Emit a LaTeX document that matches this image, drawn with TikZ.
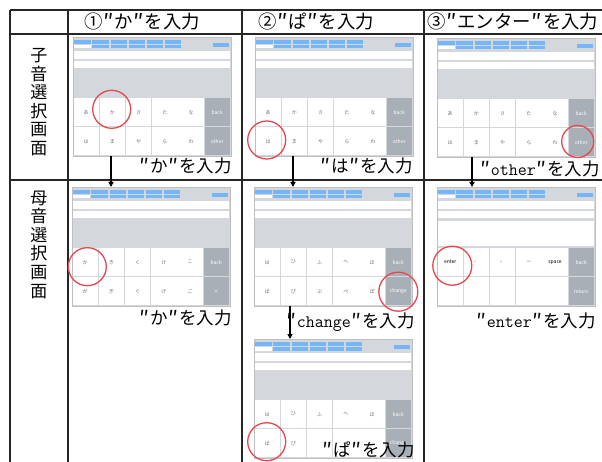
\documentclass[tikz,border=0pt]{standalone}
\usepackage{fontspec}
\newfontfamily\cjk{Noto Sans CJK JP}
\usetikzlibrary{arrows.meta}
\definecolor{scrbg}{HTML}{D4D7DB}
\definecolor{keydark}{HTML}{A8AFB7}
\definecolor{btnblue}{HTML}{74B6F7}
\definecolor{ringred}{HTML}{E5484D}
\definecolor{keytxt}{HTML}{707070}
\newcommand\qq{\makebox[0.65em][c]{\raisebox{-0.12em}{\scalebox{1.2}{″}}}}
\tikzset{
 gridline/.style={line width=1.3pt, draw=black!85},
 arr/.style={line width=1.3pt, -{Triangle[length=5pt,width=5pt]}},
 ring/.style={circle, draw=ringred, line width=1.3pt, inner sep=0pt},
 lbl/.style={font=\cjk\fontsize{17.5}{17.5}\selectfont, inner sep=0pt},
 hdr/.style={font=\cjk\fontsize{18.4}{18.4}\selectfont, inner sep=0pt},
 rowlbl/.style={font=\cjk\fontsize{17}{18.6}\selectfont, align=center, inner sep=0pt},
 keylbl/.style={font=\cjk\fontsize{5}{5}\selectfont, inner sep=0pt},
}
\newcommand\kbscreen[5]{%
\begin{scope}[shift={(#2,#3)}]
 \node[draw=black!25, fill=scrbg, line width=0.4pt, minimum width=158pt, minimum height=119pt, anchor=north west, inner sep=0pt] (#1) at (0,0) {};
 \fill[btnblue] (0.8,3) rectangle (18,7);
 \fill[white] (0.8,7.7) rectangle (18,11.5);
 \foreach \c in {0,...,4} {
   \fill[btnblue] ({19.3+\c*18.2},3) rectangle ({35.5+\c*18.2},7);
   \fill[btnblue] ({19.3+\c*18.2},7.7) rectangle ({35.5+\c*18.2},11.5);
 }
 \fill[btnblue] (140,6.3) rectangle (156.3,9.7);
 \fill[white] (1,14) rectangle (157,22);
 \fill[white] (1,24) rectangle (157,31);
 \foreach \l [count=\i from 0] in {#4} {
   \ifnum\i<5 \def\kf{white}\def\kt{keytxt}\else\def\kf{keydark}\def\kt{white}\fi
   \fill[\kf] ({0.6+\i*26.2},61) rectangle ({0.6+\i*26.2+25.3},89.4);
   \node[keylbl, text=\kt] (#1k\i) at ({0.6+\i*26.2+12.6},75.2) {\l};
 }
 \foreach \l [count=\i from 0] in {#5} {
   \ifnum\i<5 \def\kf{white}\def\kt{keytxt}\else\def\kf{keydark}\def\kt{white}\fi
   \fill[\kf] ({0.6+\i*26.2},90.2) rectangle ({0.6+\i*26.2+25.3},118.4);
   \node[keylbl, text=\kt] (#1m\i) at ({0.6+\i*26.2+12.6},104.3) {\l};
 }
\end{scope}}
\begin{document}
\begin{tikzpicture}[x=1pt,y=-1pt]
\useasboundingbox (0,0) rectangle (602,462);
\fill[white] (0,0) rectangle (602,462);
% table
\draw[gridline] (10,10) -- (602,10);
\draw[gridline] (10,34) -- (602,34);
\draw[gridline] (10,180) -- (602,180);
\draw[gridline] (10,10) -- (10,462);
\draw[gridline] (68,10) -- (68,462);
\draw[gridline] (242,10) -- (242,462);
\draw[gridline] (424,10) -- (424,462);
% headers
\node[hdr, anchor=west] (h1) at (84,22) {①\qq か\qq を入力};
\node[hdr, anchor=west] (h2) at (258,22) {②\qq ぱ\qq を入力};
\node[hdr, anchor=west] (h3) at (427,22) {③\qq エンター\qq を入力};
% row labels
\node[rowlbl] (r1) at (39,102) {子\\音\\選\\択\\画\\面};
\node[rowlbl] (r2) at (39,244.5) {母\\音\\選\\択\\画\\面};
% screens
\kbscreen{s11}{73}{37}{あ,か,さ,た,な,back}{は,ま,や,ら,わ,other}
\kbscreen{s21}{255}{37}{あ,か,さ,た,な,back}{は,ま,や,ら,わ,other}
\kbscreen{s31}{437}{38}{あ,か,さ,た,な,back}{は,ま,や,ら,わ,other}
\kbscreen{s12}{72}{187}{か,き,く,け,こ,back}{が,ぎ,ぐ,げ,ご,×}
\kbscreen{s22}{254}{187}{は,ひ,ふ,へ,ほ,back}{ぱ,ぴ,ぷ,ぺ,ぽ,change}
\kbscreen{s32}{437}{187}{{\color{black}enter},、,。,ー,{\color{black}space},back}{{},{},{},{},{},return}
\fill[white] (438,221.5) rectangle (594,246.5);
\kbscreen{s23}{254}{339}{は,ひ,ふ,へ,ほ,back}{ぱ,ぴ,{},ぺ,{},change}
% rings
\node[ring, minimum size=38pt] (c11) at (111.7,109.3) {};
\node[ring, minimum size=38pt] (c21) at (266.7,140) {};
\node[ring, minimum size=32pt] (c31) at (577.7,141.5) {};
\node[ring, minimum size=38pt] (c12) at (87.3,266.7) {};
\node[ring, minimum size=39pt] (c22) at (398.3,291.7) {};
\node[ring, minimum size=39pt] (c32) at (452.3,265.7) {};
\node[ring, minimum size=38pt] (c23) at (266.7,441.7) {};
% arrows
\coordinate (a1s) at (111,156); \coordinate (a1e) at (111,187);
\coordinate (a2s) at (293,156); \coordinate (a2e) at (293,187);
\coordinate (a3s) at (472,157); \coordinate (a3e) at (472,187);
\coordinate (a4s) at (290,306); \coordinate (a4e) at (290,339);
\draw[arr] (a1s) -- (a1e);
\draw[arr] (a2s) -- (a2e);
\draw[arr] (a3s) -- (a3e);
\draw[arr] (a4s) -- (a4e);
% labels
\node[lbl, anchor=east] (l11) at (232,166) {\qq か\qq を入力};
\node[lbl, anchor=east] (l21) at (413,166) {\qq は\qq を入力};
\node[lbl, anchor=east] (l31) at (600,169) {\qq{\ttfamily other}\qq を入力};
\node[lbl, anchor=east] (l12) at (232,318) {\qq か\qq を入力};
\node[lbl, anchor=east] (l22) at (415,322) {\qq{\ttfamily change}\qq を入力};
\node[lbl, anchor=east] (l32) at (596,321) {\qq{\ttfamily enter}\qq を入力};
\node[lbl, anchor=east] (l23) at (415,450.5) {\qq ぱ\qq を入力};
\end{tikzpicture}
\end{document}
